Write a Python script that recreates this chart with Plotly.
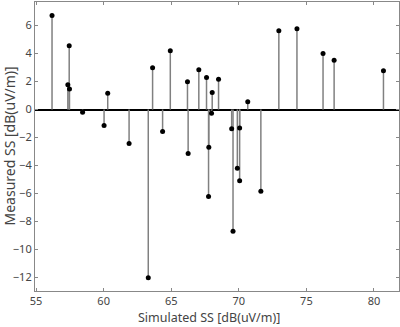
import plotly.graph_objects as go

sim = [56.18, 57.35, 57.45, 57.47, 58.44, 60.03, 60.3, 61.88, 63.3, 63.62, 64.36, 64.93,
       66.2, 66.25, 67.04, 67.61, 67.76, 67.78, 67.98, 68.03, 68.5, 69.47, 69.57, 69.89,
       70.06, 70.06, 70.66, 71.63, 72.96, 74.3, 76.23, 77.05, 80.7]
meas = [6.73, 1.77, 4.56, 1.46, -0.19, -1.14, 1.17, -2.43, -12.03, 2.98, -1.57, 4.2,
        1.98, -3.15, 2.84, 2.29, -6.23, -2.69, -0.26, 1.22, 2.17, -1.38, -8.71, -4.2,
        -1.33, -5.1, 0.55, -5.85, 5.63, 5.78, 4.01, 3.53, 2.77]

xticks = [55, 60, 65, 70, 75, 80]
yticks = [-12, -10, -8, -6, -4, -2, 0, 2, 4, 6]
xtitle = "Simulated SS [dB(uV/m)]"
ytitle = "Measured SS [dB(uV/m)]"

sx, sy = [], []
for a, b in zip(sim, meas):
    sx += [a, a, None]
    sy += [0, b, None]

fig = go.Figure()
fig.add_trace(go.Scatter(x=sx, y=sy, mode="lines",
                         line=dict(color="#808080", width=1.5), hoverinfo="skip"))
fig.add_trace(go.Scatter(x=sim, y=meas, mode="markers",
                         marker=dict(color="black", size=5)))

font = "Noto Sans, Open Sans, sans-serif"
axis_common = dict(showgrid=False, showline=True, linecolor="#888888", linewidth=1.2,
                   mirror="ticks", ticks="inside", ticklen=3, tickcolor="#888888",
                   tickfont=dict(family=font, size=11, color="#444444"))
fig.update_layout(
    width=400, height=327,
    margin=dict(l=35, r=1, t=2, b=36),
    plot_bgcolor="white", paper_bgcolor="white",
    showlegend=False,
    xaxis=dict(range=[54.92, 81.85], tickvals=xticks, zeroline=False, **axis_common),
    yaxis=dict(range=[-12.98, 7.69], tickvals=yticks, zeroline=True,
               zerolinecolor="black", zerolinewidth=1.5, **axis_common),
    annotations=[
        dict(text=xtitle, xref="paper", yref="paper", x=0.5, y=0, xshift=-8, yshift=-16,
             xanchor="center", yanchor="top", showarrow=False,
             font=dict(family=font, size=12.5, color="#444444")),
        dict(text=ytitle, xref="paper", yref="paper", x=0, y=0.5, xshift=-26,
             xanchor="center", yanchor="middle", textangle=-90, showarrow=False,
             font=dict(family=font, size=14, color="#444444")),
    ],
)
fig.write_html("out.html")
